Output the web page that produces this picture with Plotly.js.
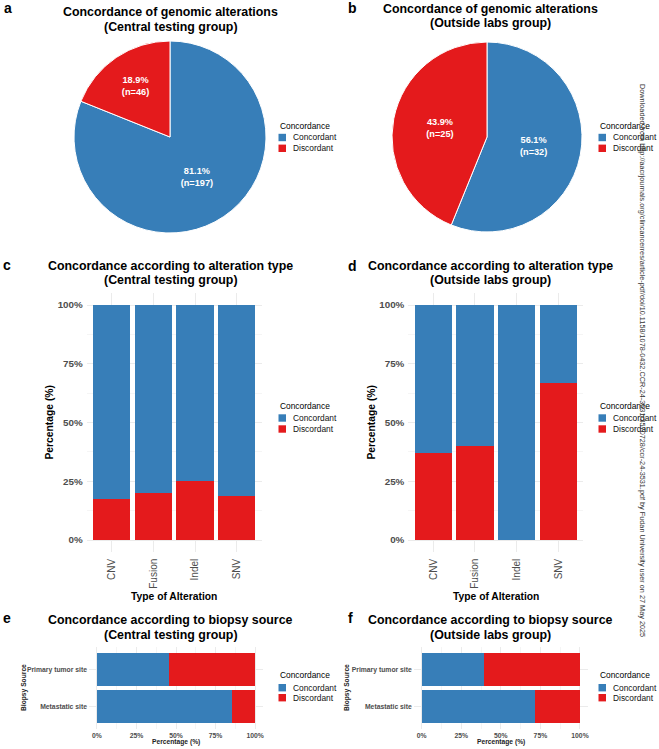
<!DOCTYPE html>
<html><head><meta charset="utf-8">
<script src="https://cdn.plot.ly/plotly-3.0.1.min.js"></script>
<style>html,body{margin:0;padding:0;background:#fff}#chart{width:659px;height:749px}</style>
</head><body><div id="chart"></div>
<script>
// ---- data ----
const concordanceLabels = ['Concordant', 'Discordant'];
const concordanceColors = ['#377EB8', '#E41A1C'];
const pieCentralCounts = [197, 46];
const pieOutsideCounts = [32, 25];
const alterationTypes = ['CNV', 'Fusion', 'Indel', 'SNV'];
const altCentralConcordant = [0.827, 0.800, 0.750, 0.813];
const altCentralDiscordant = [0.173, 0.200, 0.250, 0.187];
const altOutsideConcordant = [0.630, 0.600, 1.000, 0.333];
const altOutsideDiscordant = [0.370, 0.400, 0.000, 0.667];
const biopsySources = ['Metastatic site', 'Primary tumor site'];
const biopsyCentralConcordant = [0.852, 0.457];
const biopsyCentralDiscordant = [0.148, 0.543];
const biopsyOutsideConcordant = [0.716, 0.394];
const biopsyOutsideDiscordant = [0.284, 0.606];
const percentTicks = [0, 0.25, 0.5, 0.75, 1];
const percentMinor = [0.125, 0.375, 0.625, 0.875];
const panelTitles = [
  ['Concordance of genomic alterations', '(Central testing group)'],
  ['Concordance of genomic alterations', '(Outside labs group)'],
  ['Concordance according to alteration type', '(Central testing group)'],
  ['Concordance according to alteration type', '(Outside labs group)'],
  ['Concordance according to biopsy source', '(Central testing group)'],
  ['Concordance according to biopsy source', '(Outside labs group)']
];
const panelLetters = ['a', 'b', 'c', 'd', 'e', 'f'];
const legendTitle = 'Concordance';
const watermark = 'Downloaded from http://aacrjournals.org/clincancerres/article-pdf/doi/10.1158/1078-0432.CCR-24-3531/3570728/ccr-24-3531.pdf by Fudan University user on 27 May 2025';

// ---- layout helpers ----
const W = 659, H = 749;
const FONT = 'Liberation Sans, Arial, Helvetica, sans-serif';
const px = x => x / W;
const py = y => 1 - y / H;
const GRID = '#EBEBEB';
const TICKC = '#4D4D4D';

const pieCommon = {
  type: 'pie', labels: concordanceLabels, sort: false, direction: 'clockwise', rotation: 0,
  marker: {colors: concordanceColors, line: {color: '#ffffff', width: 1}},
  texttemplate: '%{percent:.1%}<br>(n=%{value})', textposition: 'inside',
  insidetextorientation: 'horizontal',
  textfont: {color: '#ffffff', size: 9.2, family: FONT, weight: 'bold'},
  showlegend: false, hoverinfo: 'label+value'
};

const data = [
  Object.assign({}, pieCommon, {values: pieCentralCounts,
    domain: {x: [px(74), px(266)], y: [py(233), py(41)]}}),
  Object.assign({}, pieCommon, {values: pieOutsideCounts,
    domain: {x: [px(392), px(582)], y: [py(232), py(42)]}}),
  {type: 'bar', x: alterationTypes, y: altCentralDiscordant, name: concordanceLabels[1],
   marker: {color: concordanceColors[1]}, xaxis: 'x', yaxis: 'y', showlegend: false},
  {type: 'bar', x: alterationTypes, y: altCentralConcordant, name: concordanceLabels[0],
   marker: {color: concordanceColors[0]}, xaxis: 'x', yaxis: 'y', showlegend: false},
  {type: 'bar', x: alterationTypes, y: altOutsideDiscordant, name: concordanceLabels[1],
   marker: {color: concordanceColors[1]}, xaxis: 'x2', yaxis: 'y2', showlegend: false},
  {type: 'bar', x: alterationTypes, y: altOutsideConcordant, name: concordanceLabels[0],
   marker: {color: concordanceColors[0]}, xaxis: 'x2', yaxis: 'y2', showlegend: false},
  {type: 'bar', orientation: 'h', y: biopsySources, x: biopsyCentralConcordant, name: concordanceLabels[0],
   marker: {color: concordanceColors[0]}, xaxis: 'x3', yaxis: 'y3', showlegend: false},
  {type: 'bar', orientation: 'h', y: biopsySources, x: biopsyCentralDiscordant, name: concordanceLabels[1],
   marker: {color: concordanceColors[1]}, xaxis: 'x3', yaxis: 'y3', showlegend: false},
  {type: 'bar', orientation: 'h', y: biopsySources, x: biopsyOutsideConcordant, name: concordanceLabels[0],
   marker: {color: concordanceColors[0]}, xaxis: 'x4', yaxis: 'y4', showlegend: false},
  {type: 'bar', orientation: 'h', y: biopsySources, x: biopsyOutsideDiscordant, name: concordanceLabels[1],
   marker: {color: concordanceColors[1]}, xaxis: 'x4', yaxis: 'y4', showlegend: false}
];

function catAxis(domain, anchor, range, extra) {
  return Object.assign({domain: domain, anchor: anchor, type: 'category', range: range,
    showgrid: true, gridcolor: GRID, gridwidth: 1, zeroline: false, showline: false,
    ticks: '', fixedrange: true}, extra);
}
function pctAxis(domain, anchor, extra) {
  return Object.assign({domain: domain, anchor: anchor, range: [-0.05, 1.05],
    tickmode: 'array', tickvals: percentTicks, tickformat: '.0%',
    showgrid: true, gridcolor: GRID, gridwidth: 1, zeroline: false, showline: false,
    ticks: '', fixedrange: true,
    minor: {tickmode: 'array', tickvals: percentMinor, showgrid: true, gridcolor: GRID, gridwidth: 0.5}}, extra);
}

const barTickFont = {size: 9.8, color: TICKC, family: FONT, weight: 'bold'};
const catTickFont = {size: 10, color: TICKC, family: FONT};
const smallTickFont = {size: 6.8, color: TICKC, family: FONT, weight: 'bold'};

const layout = {
  width: W, height: H, margin: {l: 0, r: 0, t: 0, b: 0},
  paper_bgcolor: '#ffffff', plot_bgcolor: 'rgba(0,0,0,0)',
  barmode: 'stack', bargap: 0.1,
  font: {family: FONT, color: '#000'},
  xaxis: catAxis([px(86.7), px(261.7)], 'y', [-0.6, 3.6], {tickangle: -90, tickfont: catTickFont, ticklabelstandoff: 4}),
  yaxis: pctAxis([py(551.75), py(293.25)], 'x', {tickfont: barTickFont, ticklabelstandoff: 3}),
  xaxis2: catAxis([px(408.3), px(583.3)], 'y2', [-0.6, 3.6], {tickangle: -90, tickfont: catTickFont, ticklabelstandoff: 4}),
  yaxis2: pctAxis([py(551.75), py(293.25)], 'x2', {tickfont: barTickFont, ticklabelstandoff: 3}),
  xaxis3: pctAxis([px(89), px(263)], 'y3', {tickfont: smallTickFont, ticklabelstandoff: 1}),
  yaxis3: catAxis([py(728.7), py(647.3)], 'x3', [-0.6, 1.6], {categoryorder: 'array', categoryarray: biopsySources, tickfont: smallTickFont, ticklabelstandoff: 1}),
  xaxis4: pctAxis([px(413.8), px(587.9)], 'y4', {tickfont: smallTickFont, ticklabelstandoff: 1}),
  yaxis4: catAxis([py(728.7), py(647.3)], 'x4', [-0.6, 1.6], {categoryorder: 'array', categoryarray: biopsySources, tickfont: smallTickFont, ticklabelstandoff: 1}),
  annotations: [], shapes: []
};

function ann(text, x, y, o) {
  layout.annotations.push(Object.assign({text: text, x: px(x), y: py(y), xref: 'paper', yref: 'paper',
    showarrow: false, xanchor: 'center', yanchor: 'middle',
    font: {family: FONT, size: 10, color: '#000'}}, o || {}));
}

// titles
const titlePos = [[170.5, 12.5, 27], [490.5, 8.5, 23], [170.5, 266, 280], [490.5, 266, 280], [170.5, 620, 635], [490.5, 620, 635]];
panelTitles.forEach((t, i) => {
  const p = titlePos[i];
  ann(t[0], p[0], p[1], {font: {family: FONT, size: 12.4, color: '#000', weight: 'bold'}});
  ann(t[1], p[0], p[2], {font: {family: FONT, size: 12.4, color: '#000', weight: 'bold'}});
});
// letters
const letterPos = [[7.5, 8], [352, 8], [6.5, 265], [352, 266], [6.5, 618], [350.5, 618]];
panelLetters.forEach((l, i) => ann(l, letterPos[i][0], letterPos[i][1], {font: {family: FONT, size: 14, color: '#000', weight: 'bold'}}));

// axis titles
const bigAxisFont = {family: FONT, size: 10.3, color: '#000', weight: 'bold'};
const smallAxisFont = {family: FONT, size: 6.7, color: '#222', weight: 'bold'};
ann('Percentage (%)', 49, 422.5, {textangle: -90, font: bigAxisFont});
ann('Percentage (%)', 371, 422.5, {textangle: -90, font: bigAxisFont});
ann('Type of Alteration', 174, 596, {font: bigAxisFont});
ann('Type of Alteration', 495.5, 596, {font: bigAxisFont});
ann('Biopsy Source', 24, 688, {textangle: -90, font: smallAxisFont});
ann('Biopsy Source', 347, 688, {textangle: -90, font: smallAxisFont});
ann('Percentage (%)', 176, 742, {font: smallAxisFont});
ann('Percentage (%)', 501, 742, {font: smallAxisFont});

// legends (drawn manually for ggplot-like compact spacing)
const legendPos = [[278, 126, 137.5, 148.3], [598, 126, 137.5, 148.3], [278, 406, 418, 429], [598, 406, 418, 429], [278, 675, 687.7, 697.7], [598, 675, 687.7, 697.7]];
legendPos.forEach(p => {
  ann(legendTitle, p[0], p[1], {xanchor: 'left', font: {family: FONT, size: 8.4, color: '#000'}});
  concordanceLabels.forEach((lab, k) => {
    const yc = p[2 + k];
    layout.shapes.push({type: 'rect', xref: 'paper', yref: 'paper',
      x0: px(p[0] + 0.5), x1: px(p[0] + 8), y0: py(yc + 3.7), y1: py(yc - 3.7),
      fillcolor: concordanceColors[k], line: {width: 0}});
    ann(lab, p[0] + 13, yc, {xanchor: 'left', font: {family: FONT, size: 8.4, color: '#111'}});
  });
});

// side watermark
ann(watermark, 643, 360, {textangle: 90, font: {family: FONT, size: 7.3, color: '#333'}});

Plotly.newPlot('chart', data, layout, {staticPlot: true, displayModeBar: false});
</script>
</body></html>
